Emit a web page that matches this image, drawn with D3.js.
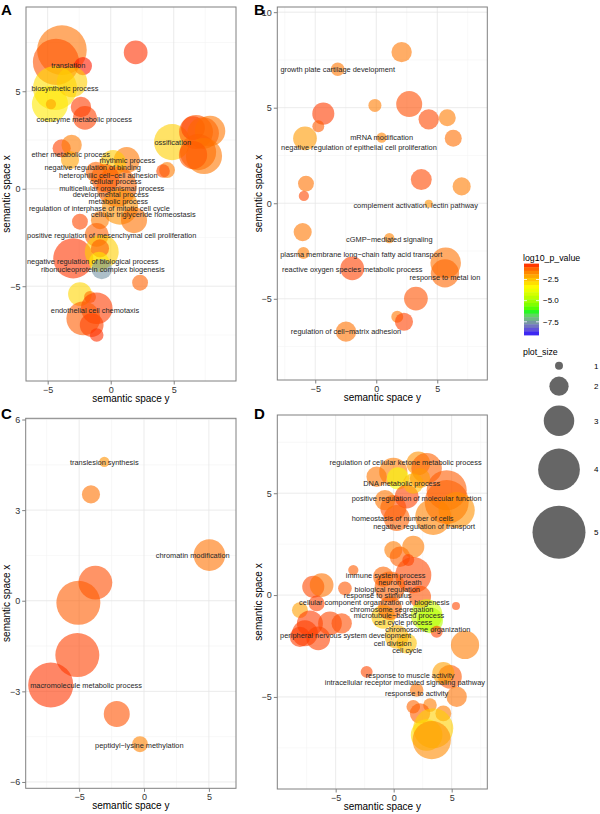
<!DOCTYPE html>
<html>
<head>
<meta charset="utf-8">
<title>semantic space</title>
<script src="https://cdn.jsdelivr.net/npm/d3@7"></script>
<style>
body{margin:0;background:#fff;}
text{font-family:"Liberation Sans",Arial,Helvetica,sans-serif;}
</style>
</head>
<body>
<script>
// bubbles: [semantic space y, semantic space x, plot_size, log10_p_value]
var bubblesA = [
  [-3.87, 7.11, 4.7, -1.4], [-4.34, 6.50, 4.4, -1.05], [-2.20, 6.29, 1.9, -0.68],
  [-4.42, 5.16, 4.2, -2.9], [-4.82, 4.34, 3.5, -3.1], [-4.74, 4.34, 1.2, -2.0],
  [-3.07, 5.47, 3.0, -2.7], [-2.36, 4.19, 2.1, -0.86], [-2.04, 3.63, 2.4, -0.9],
  [1.98, 6.99, 2.4, -0.78], [4.87, 2.39, 3.5, -2.7], [6.53, 3.11, 2.4, -0.72],
  [6.77, 2.91, 3.3, -1.1], [7.88, 2.96, 3.0, -1.45], [7.33, 2.85, 3.1, -1.25],
  [6.93, 1.88, 3.5, -1.2], [7.40, 1.68, 3.5, -1.45], [6.53, 1.73, 2.8, -1.1],
  [4.47, 0.96, 1.7, -1.5], [4.15, 0.91, 1.5, -1.0], [-3.89, 2.07, 1.9, -0.9],
  [-3.10, 2.24, 2.1, -1.5], [-3.23, 1.47, 1.9, -2.0], [1.27, 1.47, 2.6, -1.45],
  [0.18, 1.32, 2.6, -2.6], [0.48, 0.10, 3.85, -1.25], [-0.45, 0.55, 2.8, -1.15],
  [0.74, -0.92, 3.5, -1.8], [1.85, -1.61, 2.6, -1.4], [-2.44, -1.69, 1.7, -0.95],
  [-0.85, -1.61, 1.9, -1.5], [-1.17, 0.86, 2.1, -1.25], [-1.11, -2.37, 2.4, -1.2],
  [-2.97, -3.57, 3.85, -0.82], [-0.71, -3.23, 3.3, -2.7], [-0.85, -3.06, 1.9, -1.15],
  [-0.93, -3.76, 2.1, -3.1], [-0.71, -4.12, 2.1, -7.6], [2.33, -4.82, 1.7, -1.2],
  [-2.44, -5.40, 2.4, -2.8], [-1.64, -5.55, 1.35, -1.35], [-1.11, -6.13, 3.1, -0.86],
  [-2.17, -6.65, 3.3, -1.15], [-1.51, -6.99, 2.4, -0.9], [-1.11, -7.50, 1.5, -0.78]
];
var labelsA = [
  ["translation", -3.37, 6.31], ["biosynthetic process", -3.63, 5.13],
  ["coenzyme metabolic process", -2.10, 3.56], ["ossification", 4.92, 2.38],
  ["ether metabolic process", -3.17, 1.78], ["rhythmic process", 1.32, 1.44],
  ["negative regulation of binding", -1.43, 1.08], ["heterophilic cell\u2212cell adhesion", -0.19, 0.70],
  ["cellular process", 0.40, 0.38], ["multicellular organismal process", 0.08, 0.02],
  ["developmental process", 0.0, -0.31], ["metabolic process", 0.60, -0.63],
  ["regulation of interphase of mitotic cell cycle", -0.90, -0.99],
  ["cellular triglyceride homeostasis", 2.59, -1.33],
  ["positive regulation of mesenchymal cell proliferation", 0.08, -2.39],
  ["negative regulation of biological process", -1.43, -3.74],
  ["ribonucleoprotein complex biogenesis", -0.63, -4.12],
  ["endothelial cell chemotaxis", -1.25, -6.24]
];

var bubblesB = [
  [2.08, 7.91, 2.1, -1.45], [-3.16, 7.01, 1.5, -1.45], [2.70, 5.19, 2.6, -1.0],
  [-0.11, 5.12, 1.45, -1.5], [-4.34, 4.69, 2.25, -0.86], [-4.75, 4.03, 1.35, -1.15],
  [4.30, 4.39, 2.1, -0.95], [5.82, 4.48, 1.8, -1.5], [6.31, 3.40, 1.8, -1.35],
  [0.44, 3.43, 1.2, -1.6], [-5.84, 3.40, 2.4, -1.9], [3.69, 1.24, 2.15, -0.95],
  [7.0, 0.88, 1.9, -1.5], [-5.76, 1.03, 1.7, -1.4], [-5.93, 0.38, 1.2, -0.95],
  [4.30, -0.02, 1.0, -1.8], [-6.03, -1.51, 1.9, -1.45], [1.07, -1.82, 1.2, -1.6],
  [-5.97, -2.60, 1.35, -1.5], [-1.97, -3.41, 2.4, -0.9], [5.69, -3.12, 3.0, -1.4],
  [5.63, -3.67, 2.8, -1.25], [3.25, -4.99, 2.4, -1.05], [1.72, -5.94, 1.35, -1.45],
  [2.27, -6.20, 1.9, -0.9], [-2.48, -6.72, 2.1, -1.4]
];
var labelsB = [
  ["growth plate cartilage development", -3.16, 6.98], ["mRNA modification", 0.44, 3.45],
  ["negative regulation of epithelial cell proliferation", -1.42, 2.93],
  ["complement activation, lectin pathway", 3.23, -0.13],
  ["cGMP\u2212mediated signaling", 1.07, -1.89],
  ["plasma membrane long\u2212chain fatty acid transport", -1.23, -2.67],
  ["reactive oxygen species metabolic process", -1.97, -3.48],
  ["response to metal ion", 5.63, -3.88],
  ["regulation of cell\u2212matrix adhesion", -2.48, -6.73]
];

var bubblesC = [
  [-3.06, 4.60, 1.2, -1.8], [-4.09, 3.52, 1.9, -1.4], [5.04, 1.51, 3.1, -1.4],
  [-3.75, 0.60, 3.3, -1.0], [-5.06, -0.07, 4.2, -1.15], [-5.14, -1.80, 4.2, -0.9],
  [-7.19, -2.79, 4.3, -0.82], [-2.10, -3.75, 2.6, -1.05], [-0.31, -4.75, 1.7, -1.6]
];
var labelsC = [
  ["translesion synthesis", -3.06, 4.58], ["chromatin modification", 3.75, 1.50],
  ["macromolecule metabolic process", -4.47, -2.79], ["peptidyl\u2212lysine methylation", -0.36, -4.78]
];

var bubblesD = [
  [2.12, 6.47, 2.4, -1.8], [-0.03, 6.05, 2.8, -1.5], [2.84, 6.23, 3.0, -1.2],
  [0.37, 5.73, 2.25, -3.6], [-1.47, 5.81, 2.1, -1.45], [4.57, 5.15, 3.85, -1.15],
  [4.57, 4.57, 4.2, -1.2], [5.43, 4.17, 3.5, -1.8], [1.12, 4.83, 2.4, -0.9],
  [-0.03, 4.27, 2.6, -1.0], [0.26, 3.78, 2.6, -1.2], [3.41, 3.84, 3.5, -1.6],
  [1.69, 5.48, 2.1, -2.4], [2.27, 5.74, 2.1, -1.9], [-0.75, 4.66, 2.1, -1.45],
  [-0.03, 2.21, 1.9, -1.5], [0.54, 1.88, 2.1, -1.2], [1.69, 2.37, 2.25, -1.5],
  [1.26, 1.72, 1.35, -0.9], [1.69, 0.98, 3.5, -0.95], [-3.48, 1.23, 1.2, -1.15],
  [-6.93, 0.41, 2.25, -0.95], [-6.21, 0.49, 2.4, -1.4], [-4.20, 0.33, 1.5, -1.1],
  [-0.32, 0.41, 3.0, -1.2], [-0.90, 0.90, 2.1, -1.25], [2.27, -0.08, 2.25, -1.05],
  [-6.64, -0.41, 1.7, -0.9], [-8.08, -0.74, 1.7, -2.0], [-7.22, -1.39, 2.6, -0.86],
  [-7.65, -1.88, 2.6, -0.9], [-6.50, -2.13, 2.4, -0.9], [-5.49, -1.39, 2.4, -0.95],
  [-4.48, -1.39, 2.1, -1.0], [-8.08, -2.05, 2.1, -0.86], [2.84, -0.98, 3.1, -4.3],
  [3.13, -1.23, 2.6, -4.8], [-0.90, -1.07, 2.4, -2.6], [-0.32, -0.64, 2.4, -1.25],
  [1.12, -2.37, 2.1, -2.5], [0.26, -2.05, 2.4, -2.3], [3.71, -1.80, 1.35, -0.9],
  [5.37, -0.54, 1.0, -0.95], [6.15, -2.45, 2.8, -1.5], [-2.33, -3.77, 1.35, -0.95],
  [4.85, -4.01, 2.4, -1.1], [4.28, -3.83, 2.25, -2.0], [1.98, -4.66, 1.5, -1.4],
  [5.43, -4.99, 2.1, -1.4], [1.69, -5.48, 1.5, -1.25], [3.13, -5.40, 1.5, -1.5],
  [4.28, -5.81, 1.7, -1.5], [2.27, -5.81, 2.1, -1.15], [3.41, -6.54, 3.85, -2.7],
  [2.84, -6.87, 3.1, -2.9], [3.28, -7.12, 3.7, -1.7]
];
var labelsD = [
  ["regulation of cellular ketone metabolic process", 1.03, 6.50],
  ["DNA metabolic process", 0.69, 5.48],
  ["positive regulation of molecular function", 1.98, 4.75],
  ["homeostasis of number of cells", 0.77, 3.74],
  ["negative regulation of transport", 2.63, 3.38],
  ["immune system process", -0.69, 0.95], ["neuron death", 0.54, 0.61],
  ["biological regulation", -0.55, 0.28], ["response to stimulus", -1.38, -0.03],
  ["cellular component organization or biogenesis", -1.67, -0.36],
  ["chromosome segregation", -0.17, -0.69], ["microtubule\u2212based process", 0.46, -1.02],
  ["cell cycle process", 0.83, -1.35], ["chromosome organization", 2.95, -1.67],
  ["peripheral nervous system development", -4.14, -1.99],
  ["cell division", -0.09, -2.36], ["cell cycle", 1.17, -2.73],
  ["response to muscle activity", 1.41, -3.92],
  ["intracellular receptor mediated signaling pathway", 0.97, -4.30],
  ["response to activity", 1.98, -4.84]
];

var pLimits = [-9.06, -0.62];
var colorTicks = [-2.5, -5.0, -7.5];
var sizeKeys = [1, 2, 3, 4, 5];

var width = 600, height = 814;
var svg = d3.select("body").append("svg")
    .attr("width", width)
    .attr("height", height);

var pStep = (pLimits[1] - pLimits[0]) / 3;
var color = d3.scaleLinear()
    .domain([pLimits[0], pLimits[0] + pStep, pLimits[0] + 2 * pStep, pLimits[1]])
    .range(["#0000FF", "#00FF00", "#FFFF00", "#FF0000"])
    .interpolate(d3.interpolateLab);
var radius = d3.scaleLinear().domain([1, 5]).range([4, 26.5]);

var panels = [
  {tag: "A", left: 26, right: 236, top: 7, bottom: 381, xd: [-6.72, 9.94], yd: [-9.86, 9.32],
   xt: [-5, 0, 5], yt: [-5, 0, 5], bubbles: bubblesA, labels: labelsA},
  {tag: "B", left: 277.3, right: 487.3, top: 7, bottom: 380, xd: [-8.11, 9.10], yd: [-9.25, 10.27],
   xt: [-5, 0, 5], yt: [-5, 0, 5, 10], bubbles: bubblesB, labels: labelsB},
  {tag: "C", left: 25.7, right: 236, top: 418.3, bottom: 788.3, xd: [-9.12, 7.09], yd: [-6.21, 6.04],
   xt: [-5, 0, 5], yt: [-6, -3, 0, 3, 6], bubbles: bubblesC, labels: labelsC},
  {tag: "D", left: 277.3, right: 487.3, top: 415, bottom: 789, xd: [-10.03, 8.07], yd: [-9.52, 8.84],
   xt: [-5, 0, 5], yt: [-5, 0, 5], bubbles: bubblesD, labels: labelsD}
];

// minor grid halfway between the major ticks
function minorTicks(t, dom) {
  var s = t[1] - t[0], out = [];
  for (var v = t[0] - s / 2; v <= dom[1]; v += s) {
    if (v >= dom[0]) out.push(v);
  }
  return out;
}

panels.forEach(function(p, i) {
  var x = d3.scaleLinear().domain(p.xd).range([p.left, p.right]);
  var y = d3.scaleLinear().domain(p.yd).range([p.bottom, p.top]);
  var g = svg.append("g");

  g.append("clipPath").attr("id", "clip" + i)
    .append("rect")
    .attr("x", p.left).attr("y", p.top)
    .attr("width", p.right - p.left).attr("height", p.bottom - p.top);

  var grid = g.append("g");
  grid.selectAll(".mx").data(minorTicks(p.xt, p.xd)).enter().append("line")
    .attr("x1", x).attr("x2", x).attr("y1", p.top).attr("y2", p.bottom)
    .attr("stroke", "#F4F4F4").attr("stroke-width", 0.6);
  grid.selectAll(".my").data(minorTicks(p.yt, p.yd)).enter().append("line")
    .attr("y1", y).attr("y2", y).attr("x1", p.left).attr("x2", p.right)
    .attr("stroke", "#F4F4F4").attr("stroke-width", 0.6);
  grid.selectAll(".gx").data(p.xt).enter().append("line")
    .attr("x1", x).attr("x2", x).attr("y1", p.top).attr("y2", p.bottom)
    .attr("stroke", "#E6E6E6").attr("stroke-width", 0.8);
  grid.selectAll(".gy").data(p.yt).enter().append("line")
    .attr("y1", y).attr("y2", y).attr("x1", p.left).attr("x2", p.right)
    .attr("stroke", "#E6E6E6").attr("stroke-width", 0.8);

  g.append("g").attr("clip-path", "url(#clip" + i + ")")
    .selectAll("circle").data(p.bubbles).enter().append("circle")
    .attr("cx", function(d) { return x(d[0]); })
    .attr("cy", function(d) { return y(d[1]); })
    .attr("r", function(d) { return radius(d[2]); })
    .style("fill", function(d) { return color(d[3]); })
    .style("fill-opacity", 0.6);

  g.append("g").selectAll("text").data(p.labels).enter().append("text")
    .attr("x", function(d) { return x(d[1]); })
    .attr("y", function(d) { return y(d[2]); })
    .attr("dy", "0.35em")
    .attr("text-anchor", "middle")
    .style("font-size", "7.4px")
    .style("fill", "#262626")
    .text(function(d) { return d[0]; });

  g.append("rect")
    .attr("x", p.left).attr("y", p.top)
    .attr("width", p.right - p.left).attr("height", p.bottom - p.top)
    .attr("fill", "none").attr("stroke", "#808080").attr("stroke-width", 1);

  var ax = g.append("g").attr("transform", "translate(0," + p.bottom + ")")
    .call(d3.axisBottom(x).tickValues(p.xt).tickSize(3.5).tickPadding(2).tickFormat(d3.format("d")));
  var ay = g.append("g").attr("transform", "translate(" + p.left + ",0)")
    .call(d3.axisLeft(y).tickValues(p.yt).tickSize(3.5).tickPadding(2).tickFormat(d3.format("d")));
  [ax, ay].forEach(function(a) {
    a.select(".domain").remove();
    a.selectAll("line").attr("stroke", "#808080");
    a.selectAll("text").style("font-size", "9px").style("fill", "#333")
      .style("font-family", "'Liberation Sans', Arial, sans-serif");
  });

  g.append("text")
    .attr("x", (p.left + p.right) / 2).attr("y", p.bottom + 21)
    .attr("text-anchor", "middle").style("font-size", "10px").style("fill", "#000")
    .text("semantic space y");
  g.append("text")
    .attr("transform", "translate(" + (p.left < 100 ? 9.5 : 261.5) + "," + ((p.top + p.bottom) / 2) + ") rotate(-90)")
    .attr("text-anchor", "middle").style("font-size", "10px").style("fill", "#000")
    .text("semantic space x");
  g.append("text")
    .attr("x", p.left < 100 ? 1 : 254).attr("y", p.top < 100 ? 15 : 419)
    .style("font-size", "15px").style("font-weight", "bold")
    .text(p.tag);
});

// colour legend
var leg = svg.append("g");
leg.append("text").attr("x", 523).attr("y", 261).style("font-size", "8.8px").text("log10_p_value");
var barY = d3.scaleLinear().domain([pLimits[1], pLimits[0]]).range([263.6, 335]);
var nbin = 20, bins = d3.range(nbin);
leg.selectAll(".bin").data(bins).enter().append("rect")
  .attr("x", 524).attr("width", 15)
  .attr("y", function(d) { return barY(pLimits[1] + d * (pLimits[0] - pLimits[1]) / nbin); })
  .attr("height", (barY(pLimits[0]) - barY(pLimits[1])) / nbin + 0.4)
  .style("fill", function(d) { return color(pLimits[1] + (d + 0.5) * (pLimits[0] - pLimits[1]) / nbin); });
colorTicks.forEach(function(t) {
  leg.append("line").attr("x1", 524).attr("x2", 527).attr("y1", barY(t)).attr("y2", barY(t))
    .attr("stroke", "#fff").attr("stroke-width", 0.8);
  leg.append("line").attr("x1", 536).attr("x2", 539).attr("y1", barY(t)).attr("y2", barY(t))
    .attr("stroke", "#fff").attr("stroke-width", 0.8);
});
leg.selectAll(".ct").data(colorTicks).enter().append("text")
  .attr("x", 543).attr("y", function(d) { return barY(d); }).attr("dy", "0.35em")
  .style("font-size", "8px").style("fill", "#000")
  .text(d3.format(".1f"));

// size legend
leg.append("text").attr("x", 523).attr("y", 354.5).style("font-size", "8.8px").text("plot_size");
var keyY = [], cy = 365.7;
sizeKeys.forEach(function(s, i) {
  if (i > 0) cy += 1.25 * (radius(sizeKeys[i - 1]) + radius(s)) + 3.5;
  keyY.push(cy);
});
leg.selectAll(".sk").data(sizeKeys).enter().append("circle")
  .attr("cx", 559).attr("cy", function(d, i) { return keyY[i]; })
  .attr("r", function(d) { return radius(d); })
  .style("fill", "#000").style("fill-opacity", 0.6);
leg.selectAll(".sl").data(sizeKeys).enter().append("text")
  .attr("x", 594).attr("y", function(d, i) { return keyY[i]; }).attr("dy", "0.35em")
  .style("font-size", "8px").text(function(d) { return d; });
</script>
</body>
</html>
